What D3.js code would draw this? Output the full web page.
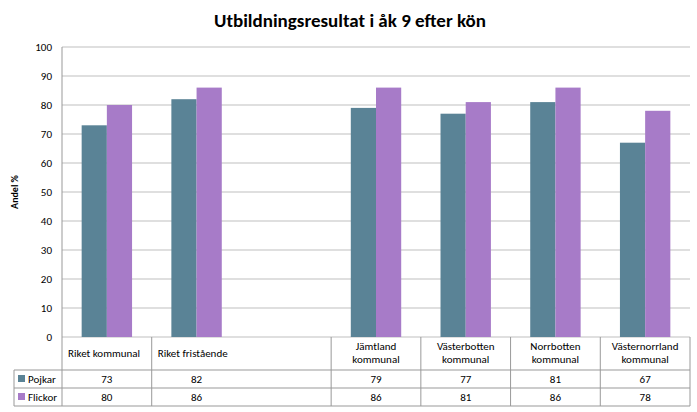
<!DOCTYPE html>
<html><head><meta charset="utf-8">
<script src="https://cdn.jsdelivr.net/npm/d3@7"></script>
<style>body{margin:0;background:#fff}text{font-family:Carlito,Calibri,"Liberation Sans",sans-serif}</style>
</head><body><div id="chart"></div>
<script>
const categories = ["Riket kommunal", "Riket fristående", "", "Jämtland\nkommunal", "Västerbotten\nkommunal", "Norrbotten\nkommunal", "Västernorrland\nkommunal"];
const pojkar = [73, 82, null, 79, 77, 81, 67];
const flickor = [80, 86, null, 86, 81, 86, 78];
const seriesNames = ["Pojkar", "Flickor"];
const colors = ["#5a8396", "#a77bc8"];
const yTicks = d3.range(0, 101, 10);

const width = 697, height = 412;
const margin = {top: 47, right: 7, bottom: 75, left: 62};
const svg = d3.select("#chart").append("svg").attr("width", width).attr("height", height);

svg.append("text").attr("x", 350).attr("y", 27).attr("text-anchor", "middle")
  .style("font-size", "19px").style("font-weight", "bold").text("Utbildningsresultat i åk 9 efter kön");

const x = d3.scaleBand().domain(d3.range(categories.length)).range([margin.left, width - margin.right]);
const y = d3.scaleLinear().domain([0, 100]).range([height - margin.bottom, margin.top]);
const x1 = d3.scaleBand().domain([0, 1]).range([0, x.bandwidth()]).paddingInner(0).paddingOuter(0.78);

// grid
svg.append("g").selectAll("line").data(yTicks).join("line")
  .attr("x1", margin.left).attr("x2", width - margin.right)
  .attr("y1", d => y(d)).attr("y2", d => y(d)).attr("stroke", "#bfbfbf");
svg.append("g").selectAll("text").data(yTicks).join("text")
  .attr("x", margin.left - 10).attr("y", d => y(d) + 4).attr("text-anchor", "end")
  .style("font-size", "11px").text(d => d);
svg.append("line").attr("x1", margin.left).attr("x2", margin.left).attr("y1", margin.top).attr("y2", height - margin.bottom).attr("stroke", "#999");
svg.append("text").attr("transform", `translate(18,${(margin.top + height - margin.bottom) / 2}) rotate(-90)`)
  .attr("text-anchor", "middle").style("font-size", "10px").style("font-weight", "bold").text("Andel %");

// bars
[pojkar, flickor].forEach((vals, s) => {
  svg.append("g").selectAll("rect").data(vals.map((v, i) => ({v, i})).filter(d => d.v != null)).join("rect")
    .attr("x", d => x(d.i) + x1(s)).attr("width", x1.bandwidth())
    .attr("y", d => y(d.v)).attr("height", d => y(0) - y(d.v)).attr("fill", colors[s]);
});

// data table
const t0 = y(0);
const yRow = [t0, t0 + 33, t0 + 51, t0 + 69];
const tbl = svg.append("g");
const lineC = "#999";
yRow.slice(1).forEach(yy => tbl.append("line").attr("x1", 14).attr("x2", width - margin.right).attr("y1", yy).attr("y2", yy).attr("stroke", lineC));
tbl.append("line").attr("x1", 14).attr("x2", 14).attr("y1", yRow[1]).attr("y2", yRow[3]).attr("stroke", lineC);
categories.forEach((c, i) => {
  if (i !== 2) tbl.append("line").attr("x1", x(i)).attr("x2", x(i)).attr("y1", t0).attr("y2", yRow[3]).attr("stroke", lineC);
});
tbl.append("line").attr("x1", width - margin.right).attr("x2", width - margin.right).attr("y1", t0).attr("y2", yRow[3]).attr("stroke", lineC);
categories.forEach((c, i) => {
  const lines = c.split("\n");
  const left = i < 2;
  lines.forEach((l, k) => tbl.append("text")
    .attr("x", left ? x(i) + 6 : x(i) + x.bandwidth() / 2)
    .attr("y", lines.length === 1 ? t0 + 20 : t0 + 13 + k * 13)
    .attr("text-anchor", left ? "start" : "middle").style("font-size", "11px").text(l));
});
[pojkar, flickor].forEach((vals, s) => {
  const yy = yRow[s + 1] + 13;
  tbl.append("rect").attr("x", 18).attr("y", yy - 8).attr("width", 7).attr("height", 7).attr("fill", colors[s]);
  tbl.append("text").attr("x", 28).attr("y", yy).style("font-size", "11px").text(seriesNames[s]);
  vals.forEach((v, i) => { if (v != null) tbl.append("text").attr("x", x(i) + x.bandwidth() / 2).attr("y", yy)
    .attr("text-anchor", "middle").style("font-size", "11px").text(v); });
});
</script></body></html>
